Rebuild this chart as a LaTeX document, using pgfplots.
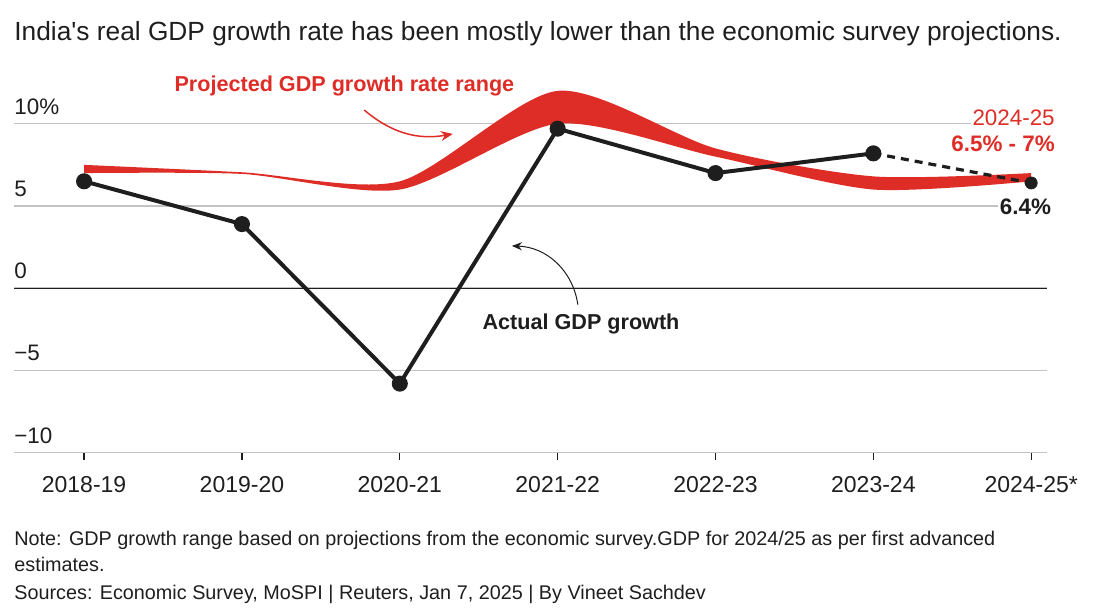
\documentclass[border=0pt]{standalone}
\usepackage{fontspec}
\setmainfont{Liberation Sans}
\usepackage{pgfplots}
\pgfplotsset{compat=1.18}
\usepgfplotslibrary{fillbetween}
\usetikzlibrary{arrows.meta}
\definecolor{rred}{RGB}{222,45,38}
\definecolor{gridgray}{RGB}{195,195,195}
\definecolor{txt}{RGB}{30,30,30}
\begin{document}
\begin{tikzpicture}
\node[anchor=west, inner sep=0pt, text=txt, font=\fontsize{13.15}{15}\selectfont] at (7pt,289pt) {India\textquotesingle s real GDP growth rate has been mostly lower than the economic survey projections.};
\begin{axis}[
 at={(7pt,79.65pt)}, anchor=south west,
 scale only axis, width=516.5pt, height=189.15pt,
 xmin=-0.444, xmax=6.10, ymin=-10, ymax=13,
 axis lines*=left,
 x axis line style={draw=gridgray, line width=0.75pt},
 y axis line style={draw=none},
 ytick={-10,-5,0,5,10},
 yticklabels={−10,−5,0,5,10\%},
 ymajorgrids, grid style={gridgray, line width=0.75pt},
 ytick style={draw=none},
 xtick={0,1,2,3,4,5,6},
 xticklabels={2018-19,2019-20,2020-21,2021-22,2022-23,2023-24,2024-25*},
 tick align=outside, major tick length=3.5pt,
 xtick style={txt, line width=0.6pt},
 xticklabel style={font=\fontsize{11.5}{13}\selectfont, text=txt, yshift=-5pt},
 yticklabel style={font=\fontsize{11.2}{13}\selectfont, text=txt, anchor=south west, inner sep=0pt, xshift=3.5pt, yshift=4.5pt},
 clip=false,
]
\addplot[name path=up, draw=none, smooth, tension=0.45] coordinates {(0,7.5)(1,7.05)(2,6.5)(3,12.0)(4,8.5)(5,6.8)(6,7.0)};
\addplot[name path=lo, draw=none, smooth, tension=0.45] coordinates {(0,7.0)(1,6.95)(2,6.0)(3,10.0)(4,8.0)(5,6.0)(6,6.5)};
\addplot[rred] fill between[of=up and lo];

\draw[txt, line width=0.6pt] (axis cs:-0.444,0) -- (axis cs:6.10,0);

\addplot[txt, line width=1.6pt, dash pattern=on 4pt off 3pt] coordinates {(5,8.2)(6,6.4)};
\addplot[txt, line width=2pt, mark=*, mark size=3pt, mark options={fill=txt, solid}] coordinates {(0,6.5)(1,3.9)(2,-5.8)(3,9.7)(4,7.0)(5,8.2)};
\addplot[only marks, mark=*, mark size=3pt, mark options={fill=txt, draw=txt}] coordinates {(6,6.4)};

\node[text=rred, font=\fontsize{10.8}{13}\selectfont\bfseries, inner sep=0pt] at (axis cs:1.649,12.29) {Projected GDP growth rate range};
\draw[rred, line width=0.75pt, -{Stealth[length=6pt,width=5pt]}] (axis cs:1.775,10.83) to[bend right=25] (axis cs:2.336,9.38);
\node[text=txt, font=\fontsize{10.8}{13}\selectfont\bfseries, inner sep=0pt] at (axis cs:3.148,-2.17) {Actual GDP growth};
\draw[txt, line width=0.5pt, -{Stealth[length=5pt,width=4pt]}] (axis cs:3.128,-1.0) to[bend right=40] (axis cs:2.71,2.57);

\node[anchor=east, text=rred, fill=white, inner sep=1pt, font=\fontsize{11.2}{13}\selectfont] at (axis cs:6.164,10.35) {2024-25};
\node[anchor=east, text=rred, inner sep=1pt, font=\fontsize{11.2}{13}\selectfont\bfseries] at (axis cs:6.164,8.77) {6.5\% - 7\%};
\node[anchor=east, text=txt, fill=white, inner sep=1pt, font=\fontsize{11.2}{13}\selectfont\bfseries] at (axis cs:6.14,4.94) {6.4\%};
\end{axis}
\node[anchor=west, inner sep=0pt, text=txt, font=\fontsize{9.9}{11}\selectfont] at (7pt,36pt) {Note: GDP growth range based on projections from the economic survey.GDP for 2024/25 as per first advanced};
\node[anchor=west, inner sep=0pt, text=txt, font=\fontsize{9.9}{11}\selectfont] at (7pt,24pt) {estimates.};
\node[anchor=west, inner sep=0pt, text=txt, font=\fontsize{9.9}{11}\selectfont] at (7pt,9pt) {Sources: Economic Survey, MoSPI | Reuters, Jan 7, 2025 | By Vineet Sachdev};
\useasboundingbox (0,0) rectangle (548.5pt,306pt);
\end{tikzpicture}
\end{document}
